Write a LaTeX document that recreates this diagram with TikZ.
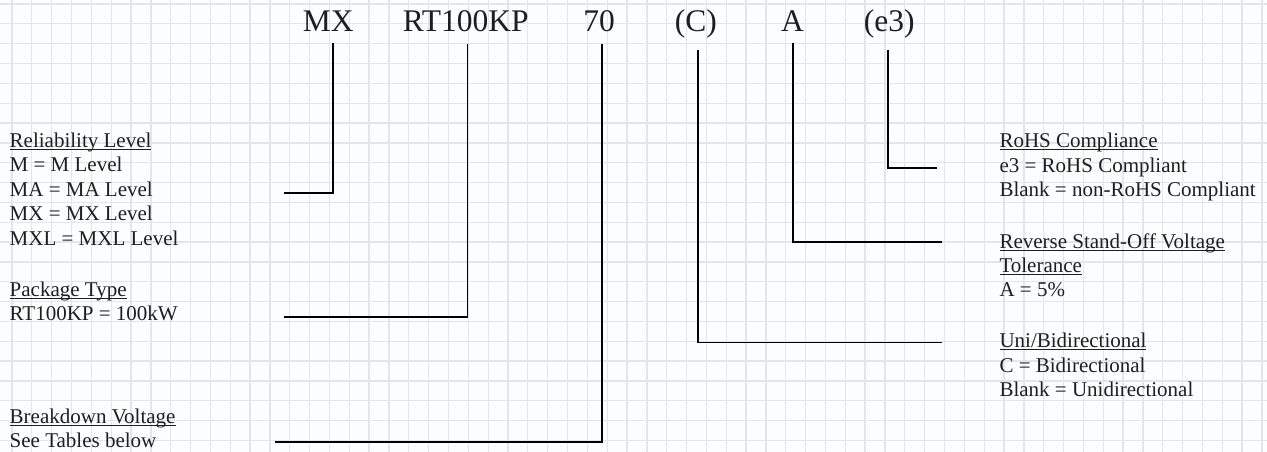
\documentclass[tikz,border=0pt]{standalone}
\usepackage{fontspec}
\setmainfont{Liberation Serif}
\definecolor{gridc}{RGB}{226,229,236}
\definecolor{bgc}{RGB}{252,253,255}
\definecolor{txtc}{RGB}{30,30,30}
\newcommand{\ulx}[1]{{\setbox0\hbox{#1}\rlap{\rule[-2.6pt]{\wd0}{1.1pt}}\box0}}
\newcommand{\blk}[1]{\vtop{\baselineskip=24.4pt\lineskiplimit=-20pt\lineskip=0pt #1}}
\begin{document}
\begin{tikzpicture}[x=1pt,y=-1pt,
  code/.style={anchor=base,inner sep=0pt,font=\fontsize{31.5}{36}\selectfont,text=txtc},
  desc/.style={anchor=base west,inner sep=0pt,font=\fontsize{21}{24.4}\selectfont,text=txtc},
  conn/.style={draw=black,line width=1.7pt,line join=miter}]
\fill[bgc] (0,0) rectangle (1267,452);
\useasboundingbox (0,0) rectangle (1267,452);
\foreach \i in {0,...,63}{\draw[gridc,line width=1.3pt] ({12+\i*19.84},0) -- ({12+\i*19.84},452);}
\foreach \j in {0,...,22}{\draw[gridc,line width=1.3pt] (0,{4+\j*19.84}) -- (1267,{4+\j*19.84});}
% code parts
\node[code] (mx) at (328.3,32) {MX};
\node[code] (rt) at (465.8,32) {RT100KP};
\node[code] (v70) at (599.2,32) {70};
\node[code] (cc) at (695.8,32) {(C)};
\node[code] (aa) at (792.5,32) {A};
\node[code] (e3) at (889.2,32) {(e3)};
% descriptions
\node[desc] (rel) at (9.5,147.5) {\blk{\hbox{\ulx{Reliability Level}}\hbox{M = M Level}\hbox{MA = MA Level}\hbox{MX = MX Level}\hbox{MXL = MXL Level}}};
\node[desc] (pkg) at (9.5,296) {\blk{\hbox{\ulx{Package Type}}\hbox{RT100KP = 100kW}}};
\node[desc] (brk) at (9.5,423) {\blk{\hbox{\ulx{Breakdown Voltage}}\hbox{See Tables below}}};
\node[desc] (rohs) at (999.3,147.7) {\blk{\hbox{\ulx{RoHS Compliance}}\hbox{e3 = RoHS Compliant}\hbox{Blank = non-RoHS Compliant}}};
\node[desc] (rev) at (999.3,248) {\blk{\hbox{\ulx{Reverse Stand-Off Voltage}}\hbox{\ulx{Tolerance}}\hbox{A = 5\%}}};
\node[desc] (uni) at (999.3,347.7) {\blk{\hbox{\ulx{Uni/Bidirectional}}\hbox{C = Bidirectional}\hbox{Blank = Unidirectional}}};
% free ends of connectors
\coordinate (mxend) at (283.5,192.8);
\coordinate (rtend) at (283.5,316.8);
\coordinate (v70end) at (275,441.8);
\coordinate (ccend) at (942,342.5);
\coordinate (aaend) at (942,242.3);
\coordinate (e3end) at (937,168);
% connectors
\draw[conn] ([xshift=4.5pt,yshift=-11pt]mx.south) |- (mxend);
\draw[conn] ([xshift=1.8pt,yshift=-11pt]rt.south) |- (rtend);
\draw[conn] ([xshift=2.5pt,yshift=-11pt]v70.south) |- (v70end);
\draw[conn] ([xshift=2pt,yshift=-11pt]cc.south) |- (ccend);
\draw[conn] ([xshift=0.7pt,yshift=-11pt]aa.south) |- (aaend);
\draw[conn] ([xshift=-1.2pt,yshift=-11pt]e3.south) |- (e3end);
\end{tikzpicture}
\end{document}
